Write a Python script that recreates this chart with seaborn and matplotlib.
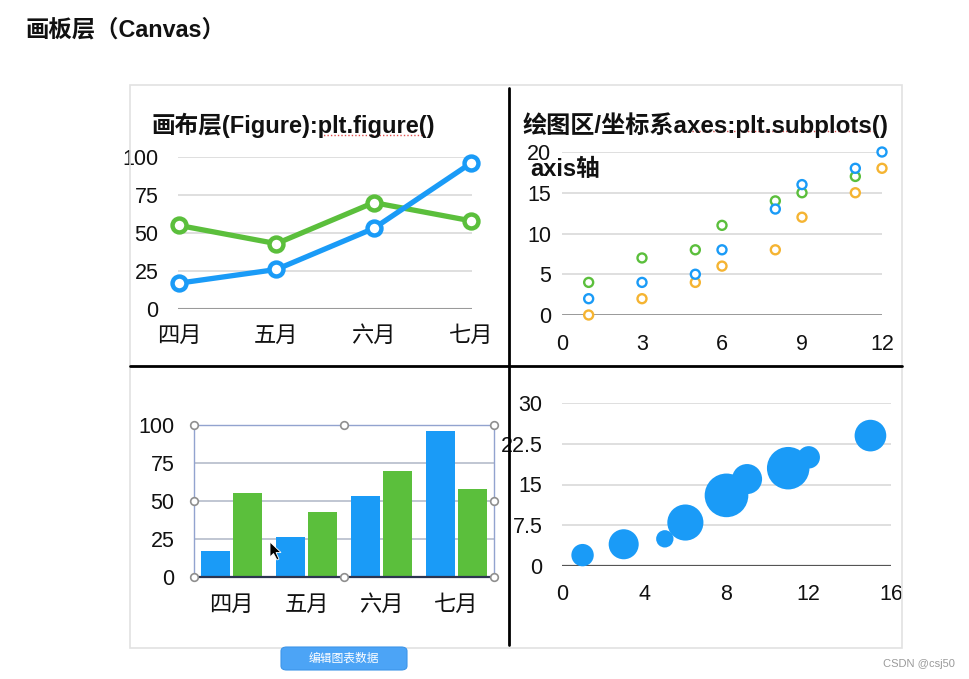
import numpy as np
import pandas as pd
import matplotlib
matplotlib.use("Agg")
import matplotlib.pyplot as plt
from matplotlib.patches import Rectangle, FancyBboxPatch, Polygon
from matplotlib.lines import Line2D
from matplotlib.ticker import FuncFormatter
import seaborn as sns

# ---------------- data ----------------
months = ["四月", "五月", "六月", "七月"]
blue_vals = [17, 26, 53, 96]
green_vals = [55, 43, 70, 58]

sc_x_blue = [1, 3, 5, 6, 8, 9, 11, 12]
sc_y_blue = [2, 4, 5, 8, 13, 16, 18, 20]
sc_x_green = [1, 3, 5, 6, 8, 9, 11]
sc_y_green = [4, 7, 8, 11, 14, 15, 17]
sc_x_orange = [1, 3, 5, 6, 8, 9, 11, 12]
sc_y_orange = [0, 2, 4, 6, 8, 12, 15, 18]

bub_x = [1, 3, 5, 6, 8, 9, 11, 12, 15]
bub_y = [2, 4, 5, 8, 13, 16, 18, 20, 24]
bub_z = [5, 9, 3, 13, 19, 9, 18, 5, 10]

line_yticks = [0, 25, 50, 75, 100]
sc_xticks = [0, 3, 6, 9, 12]
sc_yticks = [0, 5, 10, 15, 20]
bub_xticks = [0, 4, 8, 12, 16]
bub_yticks = [0, 7.5, 15, 22.5, 30]

BLUE = "#1a9bf7"
GREEN = "#5bbf3c"
ORANGE = "#f5b432"

# ---------------- setup ----------------
sns.set_theme(style="white")
plt.rcParams["font.family"] = ["Liberation Sans", "Noto Sans CJK SC", "DejaVu Sans"]
plt.rcParams["axes.unicode_minus"] = False

W, H = 970, 679
fig = plt.figure(figsize=(W / 100, H / 100), dpi=100)
fig.patch.set_facecolor("white")


def fx(px):
    return px / W


def fy(py):
    return 1 - py / H


def add_ax(l, r, t, b):
    return fig.add_axes([fx(l), fy(b), fx(r) - fx(l), (b - t) / H])


TICK_FS = 15.5
TITLE_FS = 17

# panel border
fig.add_artist(Rectangle((fx(130), fy(648)), fx(902) - fx(130), (648 - 85) / H,
                         transform=fig.transFigure, fill=False, edgecolor="#e2e2e2", lw=1.2))
# dividers
fig.add_artist(Line2D([fx(509), fx(509)], [fy(88), fy(645)], color="black", lw=2))
fig.add_artist(Line2D([fx(130), fx(902)], [fy(366), fy(366)], color="black", lw=2))

# main title
fig.text(fx(26), fy(30), "画板层（Canvas）", fontsize=16.8, fontweight="bold",
         ha="left", va="center", color="#111111")


def style_common(ax):
    for s in ax.spines.values():
        s.set_visible(False)
    ax.set_xlabel("")
    ax.set_ylabel("")
    ax.tick_params(length=0, labelsize=TICK_FS, colors="#111111")
    ax.grid(False)
    ax.set_facecolor("none")


# ---------------- top-left: line chart ----------------
ax1 = add_ax(178, 472, 157, 309)
line_df = pd.DataFrame({
    "month": months * 2,
    "value": green_vals + blue_vals,
    "series": ["g"] * 4 + ["b"] * 4,
})
for yv in line_yticks[1:]:
    ax1.axhline(yv, color="#d9d9d9", lw=1.2, zorder=0)
ax1.axhline(0, color="#9a9a9a", lw=1.5, zorder=0)
sns.lineplot(data=line_df, x="month", y="value", hue="series",
             palette={"g": GREEN, "b": BLUE}, sort=False, marker="o",
             ms=10, mfc="white", mew=3.2, lw=3.8, legend=False, ax=ax1)
for ln in ax1.lines:
    if ln.get_marker() == "o":
        ln.set_markeredgecolor(ln.get_color())
        ln.set_clip_on(False)
ax1.set_xlim(-0.01, 3.01)
ax1.set_ylim(0, 100)
ax1.set_yticks(line_yticks)
style_common(ax1)
ax1.tick_params(axis="x", labelsize=16)
ax1.tick_params(axis="y", pad=14)
ax1.tick_params(axis="x", pad=12)
fig.text(fx(152), fy(125), "画布层(Figure):plt.figure()", fontsize=TITLE_FS,
         fontweight="bold", ha="left", va="center", color="#111111")
fig.add_artist(Line2D([fx(320), fx(423)], [fy(135), fy(135)], color="#e05050",
                      lw=1, ls=(0, (1, 1.5))))

# ---------------- top-right: scatter ----------------
ax2 = add_ax(562, 882, 152, 315)
sc_df = pd.DataFrame({
    "x": sc_x_orange + sc_x_green + sc_x_blue,
    "y": sc_y_orange + sc_y_green + sc_y_blue,
    "series": ["o"] * len(sc_x_orange) + ["g"] * len(sc_x_green) + ["b"] * len(sc_x_blue),
})
for yv in sc_yticks[1:]:
    ax2.axhline(yv, color="#d9d9d9", lw=1.2, zorder=0)
ax2.axhline(0, color="#7a7a7a", lw=1.8, zorder=0)
sns.scatterplot(data=sc_df, x="x", y="y", hue="series",
                palette={"o": ORANGE, "g": GREEN, "b": BLUE}, s=42,
                legend=False, ax=ax2)
coll = ax2.collections[-1]
fcs = coll.get_facecolors()
coll.set_edgecolors(fcs)
coll.set_facecolors("white")
coll.set_linewidths(1.7)
coll.set_clip_on(False)
ax2.set_xlim(0, 12)
ax2.set_ylim(0, 20)
ax2.set_xticks(sc_xticks)
ax2.set_yticks(sc_yticks)
style_common(ax2)
ax2.tick_params(axis="y", pad=8)
ax2.tick_params(axis="x", pad=14)
fig.text(fx(523), fy(125), "绘图区/坐标系axes:plt.subplots()", fontsize=TITLE_FS + 0.4,
         fontweight="bold", ha="left", va="center", color="#111111")
fig.add_artist(Line2D([fx(678), fx(873)], [fy(131), fy(131)], color="#e05050",
                      lw=1, ls=(0, (1, 1.5))))
fig.text(fx(530), fy(170), "axis轴", fontsize=TITLE_FS, fontweight="bold",
         ha="left", va="center", color="#111111")

# ---------------- bottom-left: bars ----------------
ax3 = add_ax(194, 494, 425, 577)
bar_df = pd.DataFrame({
    "month": months * 2,
    "value": blue_vals + green_vals,
    "series": ["b"] * 4 + ["g"] * 4,
})
for yv in line_yticks[1:4]:
    ax3.axhline(yv, color="#b5bccb", lw=1.2, zorder=0)
sns.barplot(data=bar_df, x="month", y="value", hue="series",
            palette={"b": BLUE, "g": GREEN}, width=0.83, gap=0.07,
            linewidth=0, saturation=1, legend=False, ax=ax3, zorder=2)
ax3.set_xlim(-0.5, 3.5)
ax3.set_ylim(0, 100)
ax3.set_yticks(line_yticks)
style_common(ax3)
for s in ax3.spines.values():
    s.set_visible(True)
    s.set_color("#92a3cf")
    s.set_linewidth(1)
ax3.spines["bottom"].set_color("#2c3550")
ax3.spines["bottom"].set_linewidth(1.6)
ax3.tick_params(axis="x", labelsize=16)
ax3.tick_params(axis="y", pad=14)
ax3.tick_params(axis="x", pad=13)
hx = [0, 0.5, 1, 0, 1, 0, 0.5, 1]
hy = [0, 0, 0, 0.5, 0.5, 1, 1, 1]
ax3.plot(hx, hy, ls="none", marker="o", ms=5.5, mfc="white", mec="#8f8f8f",
         mew=1.2, transform=ax3.transAxes, clip_on=False, zorder=5)
# mouse cursor
cur = [(270, 542), (270, 557), (273.5, 553.5), (277, 560), (279, 559), (276, 552.5), (281, 552.5)]
fig.add_artist(Polygon([(fx(a), fy(b)) for a, b in cur], closed=True,
                       transform=fig.transFigure, facecolor="black",
                       edgecolor="white", lw=0.6))

# button
fig.add_artist(FancyBboxPatch((fx(281), fy(670)), fx(407) - fx(281), (670 - 647) / H,
                              boxstyle="round,pad=0,rounding_size=0.006",
                              transform=fig.transFigure, facecolor="#4ca4f6",
                              edgecolor="#3d95e8", lw=0.8))
fig.text(fx(344), fy(658.5), "编辑图表数据", fontsize=8.5, color="white",
         ha="center", va="center", family=["Noto Sans CJK SC", "DejaVu Sans"])

# ---------------- bottom-right: bubbles ----------------
ax4 = add_ax(562, 891, 403, 566)
bub_df = pd.DataFrame({"x": bub_x, "y": bub_y, "z": bub_z})
for yv in bub_yticks[1:]:
    ax4.axhline(yv, color="#d9d9d9", lw=1.2, zorder=0)
ax4.axhline(0, color="#555555", lw=1.6, zorder=0)
k = 52.0
sns.scatterplot(data=bub_df, x="x", y="y", size="z", sizes=(3 * k, 19 * k),
                size_norm=(3, 19), color=BLUE, linewidth=0, alpha=1,
                legend=False, ax=ax4, zorder=3)
ax4.collections[-1].set_clip_on(False)
ax4.set_xlim(0, 16)
ax4.set_ylim(0, 30)
ax4.set_xticks(bub_xticks)
ax4.set_yticks(bub_yticks)
ax4.yaxis.set_major_formatter(FuncFormatter(lambda v, p: f"{v:g}"))
style_common(ax4)
ax4.tick_params(axis="y", pad=14)
ax4.tick_params(axis="x", pad=13)

# watermark
fig.text(fx(955), fy(664), "CSDN @csj50", fontsize=8, color="#9a9a9a",
         ha="right", va="center")

fig.savefig("out.png", dpi=100, facecolor="white")
